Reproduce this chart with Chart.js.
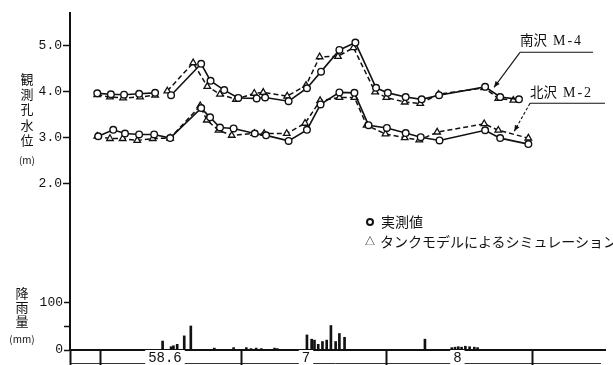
<!DOCTYPE html>
<html lang="ja">
<head>
<meta charset="utf-8">
<title>観測孔水位と降雨量</title>
<script src="https://cdn.jsdelivr.net/npm/chart.js@4/dist/chart.umd.min.js"></script>
<style>
  html, body { margin: 0; padding: 0; background: #fff; }
  #wrap { position: relative; width: 613px; height: 365px; overflow: hidden; background: #fff; }
  #chart { position: absolute; left: 0; top: 0; }
  .txt { position: absolute; color: #111; font-family: "Noto Sans CJK JP", sans-serif; white-space: nowrap; }
  .vtitle { text-align: center; font-size: 13px; line-height: 15.2px; }
  .unit { font-size: 10px; line-height: 13px; }
  .leg { font-size: 14px; line-height: 14px; }
  .mk-circle { position: absolute; width: 8px; height: 8px; border: 2px solid #111; border-radius: 50%; box-sizing: border-box; }
  .mk-tri { font-size: 10px; line-height: 10px; }
  .well { font-size: 13.5px; line-height: 15px; }
  .well .code { font-family: "Liberation Serif", serif; font-size: 14px; letter-spacing: 2px; margin-left: 6px; }
</style>
</head>
<body>
<div id="wrap">
  <canvas id="chart" width="613" height="365"></canvas>

  <div class="txt vtitle" style="left:19px; top:71px; width:16px;">観<br>測<br>孔<br>水<br>位</div>
  <div class="txt vtitle unit" style="left:15px; top:153px; width:24px;">(m)</div>

  <div class="txt vtitle" style="left:14px; top:286px; width:16px; line-height:14px;">降<br>雨<br>量</div>
  <div class="txt vtitle unit" style="left:6px; top:332px; width:32px;">(mm)</div>

  <div class="mk-circle" style="left:366px; top:218px;"></div>
  <div class="txt leg" style="left:381px; top:214px;">実測値</div>
  <div class="txt mk-tri" style="left:365px; top:236px;">△</div>
  <div class="txt leg" style="left:380px; top:234px;">タンクモデルによるシミュレーション</div>

  <div class="txt well" style="left:520px; top:32px;">南沢<span class="code">M-4</span></div>
  <div class="txt well" style="left:530px; top:84px;">北沢<span class="code">M-2</span></div>
</div>

<script>
// Days are counted from 1 June (day 0); the axis runs into mid-September.
const xMinDay = -6.4;
const xMaxDay = 107.4;
const monthEdges = [0, 30, 61, 92];
const monthLabelDays = [13.8, 43.8, 76];
const monthLabels = ['58.6', '7', '8'];

const levelTicks = [2, 3, 4, 5];
const rainTicks = [0, 50, 100];

// 南沢 M-4 : observed
const southObsDays   = [-0.6, 2.3, 5.1, 8.3, 11.7, 13.4, 15.1, 21.5, 23.5, 26.4, 29.4, 33.3, 35.1, 40.1, 44.0, 47.0, 50.9, 54.3, 58.7, 61.2, 65.0, 68.4, 72.1, 81.9, 85.1, 89.1];
const southObsLevels = [3.96, 3.94, 3.93, 3.95, 3.97, null, 3.92, 4.60, 4.23, 4.03, 3.86, 3.85, 3.87, 3.79, 4.07, 4.43, 4.90, 5.06, 4.08, 3.97, 3.88, 3.83, 3.92, 4.10, 3.88, 3.83];
// 南沢 M-4 : tank model simulation
const southSimDays   = [-0.6, 2.1, 4.9, 8.5, 11.7, 13.0, 14.3, 19.8, 22.8, 25.5, 28.9, 32.8, 34.7, 39.8, 43.8, 46.7, 50.6, 53.9, 58.5, 60.9, 64.8, 68.1, 72.0, 81.7, 84.7, 87.9];
const southSimLevels = [3.93, 3.88, 3.86, 3.88, 3.92, null, 4.01, 4.62, 4.11, 3.94, 3.83, 3.96, 3.98, 3.90, 4.13, 4.75, 4.76, 4.95, 3.99, 3.87, 3.77, 3.74, 3.94, 4.08, 3.85, 3.81];

// 北沢 M-2 : observed
const northObsDays   = [-0.4, 2.8, 5.3, 8.3, 11.5, 14.9, 21.5, 23.4, 25.5, 28.4, 32.9, 35.3, 40.1, 44.0, 46.9, 50.9, 54.1, 57.1, 61.0, 65.0, 68.2, 72.2, 81.9, 85.1, 91.1];
const northObsLevels = [3.03, 3.17, 3.09, 3.07, 3.07, 2.99, 3.64, 3.44, 3.22, 3.20, 3.09, 3.05, 2.93, 3.17, 3.72, 3.98, 3.97, 3.27, 3.21, 3.10, 3.01, 2.94, 3.16, 2.99, 2.86];
// 北沢 M-2 : tank model simulation
const northSimDays   = [-0.6, 2.1, 4.8, 7.9, 11.2, 14.9, 21.3, 22.7, 25.2, 28.0, 32.8, 34.9, 39.7, 43.6, 46.8, 50.9, 54.1, 56.7, 60.7, 64.8, 67.9, 71.7, 81.7, 84.7, 91.1];
const northSimLevels = [3.03, 2.98, 2.98, 2.94, 2.98, 2.99, 3.69, 3.38, 3.16, 3.05, 3.09, 3.09, 3.09, 3.31, 3.80, 3.87, 3.87, 3.27, 3.08, 3.00, 2.95, 3.12, 3.30, 3.16, 2.99];

// Daily rainfall (mm)
const rainDays = [13.3, 15.1, 15.6, 16.4, 17.9, 19.3, 24.3, 28.4, 31.1, 32.1, 33.2, 34.3, 37.1, 37.7, 44.0, 45.0, 45.6, 46.4, 47.3, 48.2, 49.1, 50.1, 50.9, 52.0, 69.1, 74.8, 75.5, 76.2, 76.9, 77.7, 78.6, 79.6, 80.3];
const rainMm   = [19, 7, 9, 12, 30, 51, 4, 5, 5, 3, 4, 3, 4, 3, 32, 23, 21, 12, 18, 21, 52, 18, 35, 27, 23, 5, 6, 7, 6, 8, 7, 6, 5];

// Where the well-name call-outs point (day, level)
const southCallout = { day: 83.8, level: 4.09 };
const northCallout = { day: 88.1, level: 3.14 };

const ink = '#111';
const zip = (xs, ys) => xs.map((x, i) => ({ x, y: ys[i] }));
const isLabelTick = c => !!(c.tick && monthLabelDays.includes(c.tick.value));

const observedStyle = {
  type: 'line', yAxisID: 'y', borderColor: ink, borderWidth: 1.6,
  pointStyle: 'circle', pointRadius: 3.3, pointBorderWidth: 1.4,
  pointBackgroundColor: '#fff', pointBorderColor: ink,
  spanGaps: false, tension: 0, order: 1
};
const simStyle = {
  type: 'line', yAxisID: 'y', borderColor: ink, borderWidth: 1.5, borderDash: [5, 3],
  pointStyle: 'triangle', pointRadius: 3.8, pointBorderWidth: 1.3,
  pointBackgroundColor: '#fff', pointBorderColor: ink,
  spanGaps: false, tension: 0, order: 2
};

// Lower border of the date band under the time axis
const dateBand = {
  id: 'dateBand',
  beforeDraw(chart) {
    const { ctx, chartArea } = chart;
    const xs = chart.scales.x;
    ctx.save();
    ctx.strokeStyle = '#333';
    ctx.lineWidth = 1;
    ctx.beginPath();
    ctx.moveTo(chartArea.left, xs.bottom - 1.5);
    ctx.lineTo(chartArea.right - 4, xs.bottom - 1.5);
    ctx.stroke();
    ctx.restore();
  }
};

// Leader lines from the well names to their curves
function arrowHead(ctx, fx, fy, tx, ty) {
  const a = Math.atan2(ty - fy, tx - fx);
  const len = 6, w = 2.6;
  ctx.beginPath();
  ctx.moveTo(tx, ty);
  ctx.lineTo(tx - len * Math.cos(a) + w * Math.sin(a), ty - len * Math.sin(a) - w * Math.cos(a));
  ctx.lineTo(tx - len * Math.cos(a) - w * Math.sin(a), ty - len * Math.sin(a) + w * Math.cos(a));
  ctx.closePath();
  ctx.fill();
}
const callouts = {
  id: 'callouts',
  afterDraw(chart) {
    const { ctx } = chart;
    const xs = chart.scales.x, ys = chart.scales.y;
    const items = [
      { p: southCallout, ex: 520, ey: 52.3, run: 73, dash: [] },
      { p: northCallout, ex: 530, ey: 103.3, run: 75, dash: [3, 2] }
    ];
    ctx.save();
    ctx.strokeStyle = ink;
    ctx.fillStyle = ink;
    ctx.lineWidth = 1.1;
    for (const it of items) {
      const tx = xs.getPixelForValue(it.p.day);
      const ty = ys.getPixelForValue(it.p.level);
      ctx.setLineDash([]);
      ctx.beginPath();
      ctx.moveTo(it.ex + it.run, it.ey);
      ctx.lineTo(it.ex, it.ey);
      ctx.stroke();
      ctx.setLineDash(it.dash);
      ctx.beginPath();
      ctx.moveTo(it.ex, it.ey);
      ctx.lineTo(tx, ty);
      ctx.stroke();
      ctx.setLineDash([]);
      arrowHead(ctx, it.ex, it.ey, tx, ty);
    }
    ctx.restore();
  }
};

const tickFont = { family: 'Liberation Mono', size: 13 };

new Chart(document.getElementById('chart'), {
  type: 'line',
  data: {
    datasets: [
      Object.assign({ label: '南沢 M-4 実測値', data: zip(southObsDays, southObsLevels) }, observedStyle),
      Object.assign({ label: '南沢 M-4 シミュレーション', data: zip(southSimDays, southSimLevels) }, simStyle),
      Object.assign({ label: '北沢 M-2 実測値', data: zip(northObsDays, northObsLevels) }, observedStyle),
      Object.assign({ label: '北沢 M-2 シミュレーション', data: zip(northSimDays, northSimLevels) }, simStyle),
      {
        type: 'bar', label: '降雨量', yAxisID: 'yRain',
        data: zip(rainDays, rainMm),
        backgroundColor: ink, borderWidth: 0, barThickness: 2, order: 3
      }
    ]
  },
  options: {
    responsive: false,
    maintainAspectRatio: false,
    animation: false,
    devicePixelRatio: 1,
    layout: { padding: { left: 0, right: 8, top: 13, bottom: 0 } },
    plugins: { legend: { display: false }, tooltip: { enabled: false } },
    scales: {
      x: {
        type: 'linear', position: 'bottom', min: xMinDay, max: xMaxDay,
        offset: false,
        afterBuildTicks(scale) {
          const vals = [xMinDay, ...monthEdges, ...monthLabelDays].sort((a, b) => a - b);
          scale.ticks = vals.map(v => ({ value: v }));
        },
        afterFit(scale) { scale.height = 15; },
        border: { display: true, width: 2, color: ink },
        grid: {
          offset: false,
          drawOnChartArea: false, drawTicks: true, tickLength: 15,
          tickWidth: 2,
          tickColor: c => isLabelTick(c) ? 'rgba(0,0,0,0)' : ink
        },
        ticks: {
          autoSkip: false, maxRotation: 0, padding: -15,
          font: { family: 'Liberation Mono', size: 14 }, color: ink,
          showLabelBackdrop: true,
          backdropColor: c => isLabelTick(c) ? '#fff' : 'rgba(0,0,0,0)',
          backdropPadding: { left: 3, right: 3, top: 0, bottom: 2 },
          callback: v => { const i = monthLabelDays.indexOf(v); return i >= 0 ? monthLabels[i] : ''; }
        }
      },
      y: {
        type: 'linear', position: 'left', stack: 'left', stackWeight: 217, weight: 2,
        min: 1.0, max: 5.7,
        afterBuildTicks(scale) { scale.ticks = levelTicks.map(v => ({ value: v })); },
        afterFit(scale) { scale.width = 70; },
        border: { display: true, width: 2, color: ink },
        grid: { drawOnChartArea: false, tickLength: 7, tickWidth: 1.5, tickColor: ink },
        ticks: { font: tickFont, color: ink, padding: 1, callback: v => Number(v).toFixed(1) }
      },
      yRain: {
        type: 'linear', position: 'left', stack: 'left', stackWeight: 120, weight: 1,
        min: 0, max: 255,
        afterBuildTicks(scale) { scale.ticks = rainTicks.map(v => ({ value: v })); },
        afterFit(scale) { scale.width = 70; },
        border: { display: true, width: 2, color: ink },
        grid: { drawOnChartArea: false, tickLength: 6, tickWidth: 1.5, tickColor: ink },
        ticks: { font: tickFont, color: ink, padding: 1, callback: v => (v === 50 ? '' : String(v)) }
      }
    }
  },
  plugins: [dateBand, callouts]
});
</script>
</body>
</html>
